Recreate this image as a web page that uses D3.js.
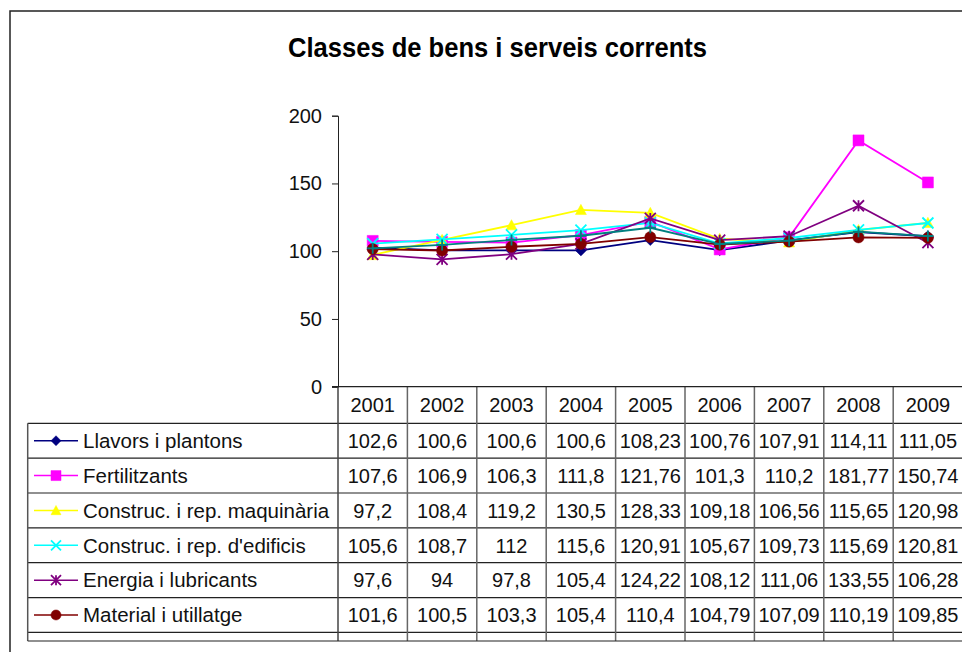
<!DOCTYPE html>
<html>
<head>
<meta charset="utf-8">
<script src="https://cdn.jsdelivr.net/npm/d3@7"></script>
<style>
  body { margin: 0; background: #fff; }
  svg { display: block; font-family: "Liberation Sans", Arial, sans-serif; }
</style>
</head>
<body>
<script>
// Data
const years = ["2001", "2002", "2003", "2004", "2005", "2006", "2007", "2008", "2009"];
const seriesNames = [
    "Llavors i plantons",
    "Fertilitzants",
    "Construc. i rep. maquinària",
    "Construc. i rep. d'edificis",
    "Energia i lubricants",
    "Material i utillatge",
    "Altres"
];
const llavors    = [102.6, 100.6, 100.6, 100.6, 108.23, 100.76, 107.91, 114.11, 111.05];
const fertil     = [107.6, 106.9, 106.3, 111.8, 121.76, 101.3, 110.2, 181.77, 150.74];
const maquinaria = [97.2, 108.4, 119.2, 130.5, 128.33, 109.18, 106.56, 115.65, 120.98];
const edificis   = [105.6, 108.7, 112, 115.6, 120.91, 105.67, 109.73, 115.69, 120.81];
const energia    = [97.6, 94, 97.8, 105.4, 124.22, 108.12, 111.06, 133.55, 106.28];
const material   = [101.6, 100.5, 103.3, 105.4, 110.4, 104.79, 107.09, 110.19, 109.85];
const altres     = [102.1, 104.6, 108.3, 111.4, 117.3, 105.3, 107.8, 114.4, 111.2]; // its table row is cut off in the picture
const yTicks = [0, 50, 100, 150, 200];

const seriesValues = [llavors, fertil, maquinaria, edificis, energia, material, altres];
const colors = ["#000080", "#ff00ff", "#ffff00", "#00ffff", "#800080", "#800000", "#008080"];
const symbols = ["diamond", "square", "triangle", "x", "star", "circle", "plus"];
const visibleRows = 6; // the last table row falls below the picture's edge

const W = 962, H = 652;
const plotLeft = 338, plotTop = 115.7, plotBottom = 386.7;
const colW = 69.4;
const rowTop = 423.3, rowH = 34.85;
const tableLeft = 27.7, tableBottom = 641;
const fontSize = "20px";

const svg = d3.select("body").append("svg")
    .attr("width", W)
    .attr("height", H);

// Frame
svg.append("path")
    .attr("d", `M10,${H} L10,11 L${W},11`)
    .attr("fill", "none")
    .attr("stroke", "#222")
    .attr("stroke-width", 1.5);

// Title
svg.append("text")
    .attr("x", 288)
    .attr("y", 56.7)
    .attr("textLength", 419)
    .attr("lengthAdjust", "spacingAndGlyphs")
    .style("font-size", "27px")
    .style("font-weight", "bold")
    .text("Classes de bens i serveis corrents");

// Scales
const x = d3.scaleBand()
    .domain(years)
    .range([plotLeft, plotLeft + colW * years.length]);

const y = d3.scaleLinear()
    .domain([0, 200])
    .range([plotBottom, plotTop]);

// Y axis
const yAxis = svg.append("g")
    .attr("transform", `translate(${plotLeft},0)`)
    .call(d3.axisLeft(y).tickValues(yTicks).tickSize(6).tickPadding(10));
yAxis.select(".domain").attr("stroke", "#222");
yAxis.selectAll(".tick line").attr("stroke", "#222");
yAxis.selectAll(".tick text")
    .style("font-size", fontSize)
    .style("font-family", "\"Liberation Sans\", Arial, sans-serif")
    .attr("fill", "#111");

// Data table
// header years
svg.selectAll("text.year")
    .data(years)
    .enter().append("text")
    .attr("class", "year")
    .attr("x", d => x(d) + x.bandwidth() / 2)
    .attr("y", 412.3)
    .attr("text-anchor", "middle")
    .style("font-size", fontSize)
    .attr("fill", "#111")
    .text(d => d);

// horizontal lines
const hLines = d3.range(seriesNames.length).map(i => rowTop + i * rowH);
svg.selectAll("line.h")
    .data(hLines)
    .enter().append("line")
    .attr("x1", tableLeft).attr("x2", W)
    .attr("y1", d => d).attr("y2", d => d)
    .attr("stroke", "#222").attr("stroke-width", 1.2);

// vertical column lines
svg.selectAll("line.v")
    .data(years.slice(1))
    .enter().append("line")
    .attr("x1", d => x(d)).attr("x2", d => x(d))
    .attr("y1", plotBottom).attr("y2", tableBottom)
    .attr("stroke", "#666").attr("stroke-width", 1.5);

svg.append("line")
    .attr("x1", plotLeft).attr("x2", plotLeft)
    .attr("y1", plotBottom).attr("y2", tableBottom)
    .attr("stroke", "#444").attr("stroke-width", 1.5);
svg.append("line")
    .attr("x1", tableLeft).attr("x2", tableLeft)
    .attr("y1", rowTop).attr("y2", tableBottom)
    .attr("stroke", "#555").attr("stroke-width", 1.5);
svg.append("line")
    .attr("x1", tableLeft).attr("x2", W)
    .attr("y1", tableBottom).attr("y2", tableBottom)
    .attr("stroke", "#222").attr("stroke-width", 1.2);

// x axis line
svg.append("line")
    .attr("x1", plotLeft - 6).attr("x2", W)
    .attr("y1", plotBottom).attr("y2", plotBottom)
    .attr("stroke", "#222").attr("stroke-width", 1.2);

function symbolPath(kind, size)
{
    const s = size / 2;
    if (kind == "diamond") return `M0,${-s}L${s},0L0,${s}L${-s},0Z`;
    if (kind == "square") return `M${-s},${-s}H${s}V${s}H${-s}Z`;
    if (kind == "triangle") return `M0,${-s}L${s},${s * 0.85}L${-s},${s * 0.85}Z`;
    if (kind == "circle") return d3.symbol(d3.symbolCircle, size * size * 0.8)();
    if (kind == "x") return `M${-s},${-s}L${s},${s}M${-s},${s}L${s},${-s}`;
    if (kind == "plus") return `M${-s},0H${s}M0,${-s}V${s}`;
    if (kind == "star") return `M${-s},${-s}L${s},${s}M${-s},${s}L${s},${-s}M0,${-s}V${s}`;
}

function drawMarker(g, kind, color, size)
{
    const open = (kind == "x" || kind == "plus" || kind == "star");
    g.append("path")
        .attr("d", symbolPath(kind, size))
        .attr("fill", open ? "none" : color)
        .attr("stroke", color)
        .attr("stroke-width", open ? 1.8 : 0.5);
}

// table rows: legend key + label + values
seriesNames.slice(0, visibleRows).forEach((name, i) => {
    const cy = rowTop + i * rowH + rowH / 2;
    const row = svg.append("g");
    row.append("line")
        .attr("x1", 34).attr("x2", 78)
        .attr("y1", cy).attr("y2", cy)
        .attr("stroke", colors[i]).attr("stroke-width", 1.5);
    drawMarker(row.append("g").attr("transform", `translate(56,${cy})`), symbols[i], colors[i], 10);
    row.append("text")
        .attr("x", 83)
        .attr("y", cy + 7.3)
        .style("font-size", "20.5px")
        .attr("fill", "#111")
        .text(name);
    row.selectAll("text.val")
        .data(seriesValues[i])
        .enter().append("text")
        .attr("class", "val")
        .attr("x", (d, j) => x(years[j]) + x.bandwidth() / 2)
        .attr("y", cy + 7.3)
        .attr("text-anchor", "middle")
        .style("font-size", fontSize)
        .attr("fill", "#111")
        .text(d => String(d).replace(".", ","));
});

// Lines and markers
const line = d3.line()
    .x((d, j) => x(years[j]) + x.bandwidth() / 2)
    .y(d => y(d));

seriesValues.forEach((vals, i) => {
    svg.append("path")
        .datum(vals)
        .attr("fill", "none")
        .attr("stroke", colors[i])
        .attr("stroke-width", 1.8)
        .attr("d", line);
    vals.forEach((v, j) => {
        drawMarker(svg.append("g")
            .attr("transform", `translate(${x(years[j]) + x.bandwidth() / 2},${y(v)})`),
            symbols[i], colors[i], 11);
    });
});
</script>
</body>
</html>
